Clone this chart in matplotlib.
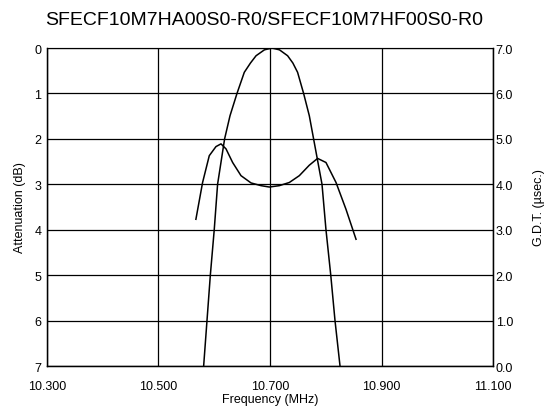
import matplotlib
matplotlib.use("Agg")
import matplotlib.pyplot as plt

plt.rcParams.update({"font.family": ["Liberation Sans", "DejaVu Sans"], "font.size": 9})

# attenuation response (dB)
att_freq = [10.581, 10.587, 10.593, 10.600, 10.606, 10.6186, 10.6283, 10.6408, 10.6539,
            10.665, 10.675, 10.690, 10.7036, 10.717, 10.7316, 10.741, 10.7495, 10.7603,
            10.7705, 10.7782, 10.7933, 10.8004, 10.809, 10.8166, 10.8256]
att_db = [7.0, 6.0, 5.0, 4.0, 3.0, 2.0, 1.49, 1.0, 0.535,
          0.33, 0.17, 0.04, 0.0, 0.04, 0.17, 0.33, 0.535, 1.0,
          1.49, 2.0, 3.0, 4.0, 5.0, 6.0, 7.0]

# group delay time (usec)
gdt_freq = [10.5671, 10.5791, 10.5911, 10.6031, 10.6121, 10.6211, 10.633, 10.648, 10.666,
            10.684, 10.6988, 10.7167, 10.7347, 10.7526, 10.7705, 10.7854, 10.8004, 10.8184,
            10.8363, 10.8543]
gdt_us = [3.23, 4.04, 4.63, 4.83, 4.89, 4.78, 4.48, 4.19, 4.03,
          3.97, 3.94, 3.97, 4.04, 4.19, 4.42, 4.57, 4.48, 4.04,
          3.45, 2.79]

xticks = [10.3, 10.5, 10.7, 10.9, 11.1]

fig = plt.figure(figsize=(5.45, 4.14), dpi=100)
ax = fig.add_axes([0.0862, 0.1135, 0.8184, 0.7681])
ax.set_xlim(10.3, 11.1)
ax.set_ylim(7, 0)
ax.set_xticks(xticks)
ax.set_xticklabels([f"{x:.3f}" for x in xticks])
ax.set_yticks(range(8))
ax.tick_params(axis="x", length=0, pad=10)
ax.tick_params(axis="y", length=0, pad=4)
ax.grid(True, color="black", lw=0.9)
ax.spines["top"].set_color("#777777")
for s in ["left", "right", "bottom"]:
    ax.spines[s].set_linewidth(1.0)
ax.plot(att_freq, att_db, color="black", lw=1.1, solid_joinstyle="round")
ax.set_xlabel("Frequency (MHz)", fontsize=9, labelpad=1)
ax.set_ylabel("Attenuation (dB)", fontsize=9, labelpad=6)

ax2 = ax.twinx()
ax2.set_ylim(0, 7)
ax2.set_yticks(range(8))
ax2.set_yticklabels([f"{v:.1f}" for v in range(8)])
ax2.tick_params(length=0, pad=2)
ax2.plot(gdt_freq, gdt_us, color="black", lw=1.1, solid_joinstyle="round")
ax2.set_ylabel("G.D.T. (\u00b5sec.)", fontsize=9, labelpad=14)

fig.suptitle("SFECF10M7HA00S0-R0/SFECF10M7HF00S0-R0", fontsize=14, x=0.485, y=0.972)
fig.savefig("out.png", dpi=100)
